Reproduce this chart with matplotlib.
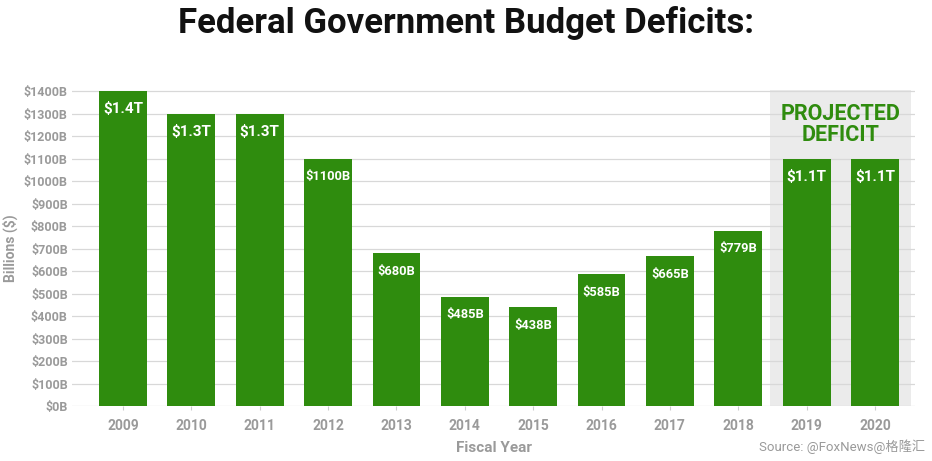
import matplotlib
matplotlib.use("Agg")
import matplotlib.pyplot as plt
from matplotlib.patches import Rectangle

years = ["2009", "2010", "2011", "2012", "2013", "2014", "2015", "2016", "2017", "2018", "2019", "2020"]
deficits = [1400, 1300, 1300, 1100, 680, 485, 438, 585, 665, 779, 1100, 1100]
bar_labels = ["$1.4T", "$1.3T", "$1.3T", "$1100B", "$680B", "$485B", "$438B", "$585B", "$665B", "$779B", "$1.1T", "$1.1T"]
yticks = list(range(0, 1500, 100))
ytick_labels = [f"${v}B" for v in yticks]

GREEN = "#2f8c0e"
GRAY = "#9a9a9a"

plt.rcParams['font.family'] = ['Roboto', 'Noto Sans CJK SC', 'DejaVu Sans']

fig = plt.figure(figsize=(9.32, 4.61), dpi=100)
ax = fig.add_axes([72/932, 55/461, (915-72)/932, (406-90)/461])

x = list(range(len(years)))
ax.set_xlim(-0.746, 11.585)
ax.set_ylim(0, 1405)

# projected band
ax.add_patch(Rectangle((9.46, 0), 11.52-9.46, 1405, facecolor="#ebebeb", edgecolor="none", zorder=0))

ax.bar(x, deficits, width=0.7, color=GREEN, zorder=2)

for xi, v, lab in zip(x, deficits, bar_labels):
    fs = 11 if lab.endswith("T") else 9.3
    ax.annotate(lab, (xi, v), xytext=(0, -13), textcoords="offset points",
                ha="center", va="center", color="white", fontsize=fs,
                fontweight="bold", zorder=3)

ax.text(10.5, 1250, "PROJECTED\nDEFICIT", ha="center", va="center", color=GREEN,
        fontsize=15.5, fontweight="bold", linespacing=0.95, zorder=3)

ax.set_yticks(yticks)
ax.set_yticklabels(ytick_labels)
ax.set_xticks(x)
ax.set_xticklabels(years)
ax.grid(axis="y", color="#d8d8d8", linewidth=0.9, zorder=1)
ax.set_axisbelow(True)
for s in ax.spines.values():
    s.set_visible(False)
ax.tick_params(axis="y", length=0, pad=3, labelsize=9, labelcolor=GRAY)
ax.tick_params(axis="x", length=3, color="#cccccc", pad=6, labelsize=10, labelcolor=GRAY)
for t in ax.get_xticklabels() + ax.get_yticklabels():
    t.set_fontweight("bold")

ax.set_ylabel("Billions ($)", color=GRAY, fontsize=10, fontweight="bold", labelpad=4)
ax.set_xlabel("Fiscal Year", color=GRAY, fontsize=11, fontweight="bold", labelpad=6)

fig.text(0.5, 1 - 23/461, "Federal Government Budget Deficits:", ha="center", va="center",
         fontsize=25, fontweight="bold", color="#111111")
fig.text(925/932, 1 - 447/461, "Source: @FoxNews@格隆汇", ha="right", va="center",
         fontsize=9.5, color=GRAY)

fig.savefig("out.png", dpi=100)
